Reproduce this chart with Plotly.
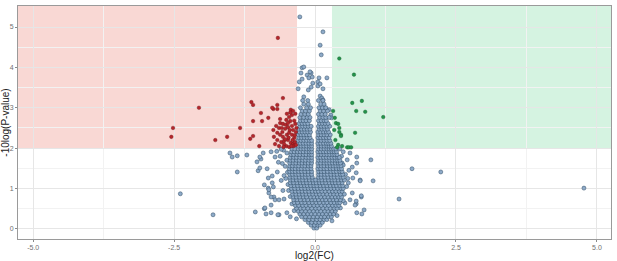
import plotly.graph_objects as go

# ---------------- data ----------------
x_tick_vals = [-5.0, -2.5, 0.0, 2.5, 5.0]
x_tick_text = ["-5.0", "-2.5", "0.0", "2.5", "5.0"]
y_tick_vals = [0, 1, 2, 3, 4, 5]
y_tick_text = ["0", "1", "2", "3", "4", "5"]

fc_down_cut = -0.32
fc_up_cut = 0.30
p_cut = 2.0

# significantly down-regulated (red)
sig_down = [
    (-0.66, 4.73), (-2.06, 3.00), (-1.13, 3.14), (-1.10, 3.07), (-0.57, 3.24), (-0.67, 3.07),
    (-0.74, 2.97), (-0.67, 2.97), (-0.96, 2.87), (-0.83, 2.75), (-1.10, 2.67), (-0.94, 2.67),
    (-0.43, 2.95), (-0.39, 2.92), (-0.50, 2.85), (-0.41, 2.82), (-0.46, 2.77), (-0.51, 2.70),
    (-0.62, 2.62), (-0.57, 2.60), (-0.44, 2.67), (-0.64, 2.50), (-0.59, 2.50), (-0.53, 2.48),
    (-0.48, 2.52), (-0.41, 2.55), (-0.39, 2.45), (-0.67, 2.38), (-0.62, 2.33), (-0.57, 2.28),
    (-0.50, 2.33), (-0.46, 2.38), (-0.41, 2.33), (-0.37, 2.25), (-0.67, 2.20), (-0.60, 2.15),
    (-0.55, 2.18), (-0.48, 2.20), (-0.43, 2.13), (-0.39, 2.10), (-0.71, 2.10), (-0.64, 2.05),
    (-0.51, 2.05), (-0.46, 2.03), (-1.33, 2.50), (-1.56, 2.28), (-1.15, 2.23), (-1.10, 2.30),
    (-0.99, 2.05), (-0.73, 2.28), (-0.74, 2.45), (-2.52, 2.50), (-2.55, 2.28), (-1.77, 2.20),
    (-0.76, 3.00), (-0.34, 2.40), (-0.36, 2.15), (-0.35, 2.60), (-0.38, 2.05), (-0.55, 2.10),
    (-0.47, 2.26), (-0.58, 2.40), (-0.52, 2.58), (-0.45, 2.45), (-0.40, 2.20), (-0.36, 2.32),
    (-0.42, 2.05), (-0.53, 2.22), (-0.69, 2.55), (-0.62, 2.72), (-0.37, 2.68), (-0.48, 2.62),
    (-0.56, 2.03), (-0.35, 2.85), (-0.44, 2.88), (-0.33, 2.50), (-0.34, 2.08),
]

# significantly up-regulated (green)
sig_up = [
    (0.43, 4.22), (0.69, 3.82), (0.83, 3.17), (0.66, 3.12), (0.73, 2.92), (0.89, 2.90),
    (1.21, 2.77), (0.35, 2.75), (0.37, 2.62), (0.41, 2.60), (0.43, 2.50), (0.43, 2.40),
    (0.46, 2.33), (0.71, 2.38), (0.34, 2.45), (0.32, 2.92), (0.41, 2.08), (0.48, 2.05),
    (0.57, 2.02), (0.60, 2.02), (0.64, 2.02), (0.39, 2.02), (0.36, 2.20), (0.46, 2.30),
]

# not significant: sparse points
ns_sparse = [
    (-0.27, 5.25), (0.14, 4.88), (0.09, 4.55), (0.11, 4.31),
    (-0.23, 3.99), (-0.20, 4.01), (-0.07, 3.86), (-0.14, 3.81), (-0.25, 3.86), (-0.28, 3.64),
    (-0.23, 3.71), (-0.11, 3.74), (-0.04, 3.61), (-0.07, 3.51), (0.07, 3.74), (0.05, 3.64),
    (0.21, 3.74), (-0.30, 3.47), (-0.20, 3.27), (-0.12, 3.44), (0.05, 3.54), (0.09, 3.29),
    (0.12, 3.24), (0.14, 3.47), (-0.09, 3.89), (-0.05, 3.76), (0.09, 3.59), (0.14, 3.19),
    (0.25, 2.95), (0.28, 2.82), (0.18, 3.00), (0.29, 2.75),
    (-1.51, 1.88), (-1.47, 1.78), (-1.38, 1.81), (-1.21, 1.83), (-1.38, 1.41), (-1.01, 1.44),
    (-2.39, 0.87), (-1.81, 0.35), (-1.06, 0.42), (-0.90, 0.50), (-0.87, 0.37), (-0.78, 0.40),
    (-0.64, 0.35), (-1.03, 1.66), (-0.96, 1.73), (-0.98, 1.78), (-0.98, 1.51), (-0.85, 1.49),
    (-0.83, 1.26), (-0.76, 1.14), (-0.83, 1.01), (-0.82, 0.89), (-0.73, 0.79), (-0.89, 0.52),
    (-0.66, 0.35), (-0.74, 1.04), (-0.92, 1.88), (-0.78, 1.91), (-0.71, 1.78), (-0.76, 1.31),
    (-0.67, 1.41), (-0.71, 0.72), (-0.78, 0.59), (-0.90, 1.09), (-0.82, 0.97), (-0.78, 0.79),
    (-0.64, 0.72), (-0.55, 0.74), (-0.50, 0.40), (-0.44, 0.30),
    (0.99, 1.71), (1.72, 1.49), (2.23, 1.41), (1.03, 1.19), (4.77, 1.01), (1.49, 0.74),
    (0.82, 0.79), (0.87, 0.47), (0.74, 0.40), (0.83, 0.37), (0.73, 0.62), (0.80, 1.21),
    (0.74, 1.63), (0.73, 1.39), (0.74, 1.78), (0.62, 1.88), (0.57, 1.71), (0.66, 1.53),
    (0.67, 1.26), (0.59, 1.14), (0.66, 0.89), (0.62, 0.72), (0.71, 0.59), (0.53, 0.64),
    (0.48, 1.63), (0.50, 1.91), (0.44, 1.98), (0.80, 1.19), (0.82, 0.82), (0.73, 0.69),
    (-0.50, 1.70), (-0.53, 1.55), (-0.49, 1.40), (-0.52, 1.25), (-0.48, 1.10), (-0.55, 1.32),
    (-0.58, 1.62), (-0.50, 1.88), (-0.56, 1.95), (-0.47, 0.95), (-0.44, 0.80), (-0.41, 0.62),
    (-0.37, 0.45), (0.54, 1.35), (0.56, 1.05), (0.52, 0.86), (0.50, 0.70), (0.45, 0.52),
    (0.39, 0.33), (0.50, 1.58), (0.47, 1.80), (-0.33, 0.25), (0.30, 0.20), (-0.62, 1.80),
    (-0.60, 1.20), (-0.57, 0.95), (0.60, 1.45), (0.58, 1.25), (-0.65, 1.65), (-0.68, 1.92),
    (-0.60, 1.97),
]

# not significant: dense core, listed row by row (y, x values)
ns_core_rows = [
    (0.02, [-0.02, 0.03]),
    (0.09, [-0.07, -0.01, 0.05, 0.09]),
    (0.16, [-0.12, -0.06, 0.01, 0.07, 0.13]),
    (0.23, [-0.18, -0.11, -0.04, 0.03, 0.09, 0.16, 0.21]),
    (0.30, [-0.24, -0.17, -0.10, -0.03, 0.04, 0.11, 0.17, 0.24, 0.29]),
    (0.37, [-0.27, -0.20, -0.13, -0.07, 0.00, 0.07, 0.13, 0.20, 0.27, 0.33]),
    (0.44, [-0.30, -0.24, -0.17, -0.10, -0.03, 0.04, 0.10, 0.17, 0.23, 0.30, 0.36]),
    (0.51, [-0.33, -0.26, -0.20, -0.13, -0.06, 0.01, 0.07, 0.14, 0.21, 0.27, 0.34, 0.39]),
    (0.58, [-0.35, -0.29, -0.22, -0.16, -0.09, -0.02, 0.04, 0.11, 0.18, 0.24, 0.31, 0.37, 0.42]),
    (0.65, [-0.37, -0.31, -0.24, -0.18, -0.11, -0.05, 0.02, 0.08, 0.15, 0.21, 0.28, 0.34, 0.40, 0.44]),
    (0.72, [-0.38, -0.32, -0.26, -0.19, -0.13, -0.06, 0.00, 0.06, 0.13, 0.19, 0.26, 0.32, 0.38, 0.45]),
    (0.79, [-0.39, -0.33, -0.27, -0.21, -0.15, -0.08, -0.02, 0.04, 0.10, 0.17, 0.23, 0.30, 0.36, 0.42, 0.47]),
    (0.86, [-0.40, -0.34, -0.28, -0.22, -0.16, -0.10, -0.04, 0.02, 0.08, 0.14, 0.21, 0.27, 0.33, 0.39, 0.45]),
    (0.93, [-0.41, -0.35, -0.29, -0.23, -0.17, -0.11, -0.05, 0.01, 0.06, 0.12, 0.18, 0.25, 0.31, 0.37, 0.43, 0.48]),
    (1.00, [-0.42, -0.36, -0.30, -0.24, -0.18, -0.12, -0.07, -0.01, 0.04, 0.10, 0.16, 0.22, 0.28, 0.34, 0.40, 0.46, 0.50]),
    (1.07, [-0.43, -0.37, -0.31, -0.25, -0.19, -0.14, -0.08, -0.02, 0.03, 0.09, 0.15, 0.21, 0.27, 0.33, 0.38, 0.44, 0.49]),
    (1.14, [-0.44, -0.38, -0.32, -0.26, -0.21, -0.15, -0.09, -0.03, 0.02, 0.08, 0.13, 0.19, 0.25, 0.31, 0.36, 0.42, 0.48]),
    (1.21, [-0.44, -0.39, -0.33, -0.27, -0.22, -0.16, -0.10, -0.04, 0.01, 0.07, 0.12, 0.18, 0.24, 0.30, 0.35, 0.41, 0.47, 0.52]),
    (1.28, [-0.45, -0.39, -0.34, -0.28, -0.22, -0.17, -0.11, -0.05, 0.06, 0.11, 0.17, 0.23, 0.29, 0.34, 0.40, 0.46, 0.50]),
    (1.35, [-0.45, -0.40, -0.34, -0.29, -0.23, -0.17, -0.12, -0.06, 0.06, 0.11, 0.17, 0.22, 0.28, 0.34, 0.39, 0.45, 0.49]),
    (1.42, [-0.45, -0.40, -0.35, -0.29, -0.24, -0.18, -0.12, -0.06, 0.06, 0.11, 0.16, 0.22, 0.28, 0.33, 0.38, 0.44, 0.48]),
    (1.49, [-0.46, -0.40, -0.35, -0.29, -0.24, -0.18, -0.13, -0.07, 0.05, 0.10, 0.16, 0.21, 0.27, 0.32, 0.38, 0.43, 0.47]),
    (1.56, [-0.45, -0.40, -0.34, -0.29, -0.23, -0.18, -0.12, -0.07, 0.06, 0.11, 0.16, 0.22, 0.27, 0.32, 0.37, 0.42, 0.46]),
    (1.63, [-0.45, -0.39, -0.34, -0.28, -0.23, -0.17, -0.12, -0.06, 0.05, 0.10, 0.16, 0.21, 0.26, 0.31, 0.36, 0.41, 0.45]),
    (1.70, [-0.44, -0.39, -0.33, -0.28, -0.22, -0.17, -0.11, -0.06, 0.06, 0.11, 0.16, 0.21, 0.26, 0.31, 0.36, 0.40, 0.44]),
    (1.77, [-0.44, -0.38, -0.33, -0.27, -0.22, -0.16, -0.11, -0.06, 0.05, 0.10, 0.15, 0.20, 0.25, 0.30, 0.35, 0.40, 0.43]),
    (1.84, [-0.43, -0.38, -0.32, -0.27, -0.21, -0.16, -0.10, -0.06, 0.06, 0.11, 0.16, 0.21, 0.26, 0.31, 0.35, 0.39]),
    (1.91, [-0.42, -0.37, -0.31, -0.26, -0.21, -0.15, -0.10, -0.06, 0.05, 0.10, 0.15, 0.20, 0.25, 0.30, 0.34, 0.38]),
    (1.98, [-0.41, -0.36, -0.30, -0.25, -0.20, -0.15, -0.10, -0.06, 0.06, 0.11, 0.16, 0.21, 0.25, 0.29, 0.33, 0.37]),
    (2.05, [-0.30, -0.25, -0.20, -0.15, -0.10, -0.06, 0.06, 0.11, 0.16, 0.21, 0.25, 0.29]),
    (2.12, [-0.31, -0.26, -0.21, -0.16, -0.11, -0.06, 0.05, 0.10, 0.15, 0.20, 0.24, 0.28]),
    (2.19, [-0.30, -0.25, -0.20, -0.15, -0.10, -0.06, 0.06, 0.11, 0.16, 0.21, 0.26]),
    (2.26, [-0.29, -0.24, -0.19, -0.14, -0.09, 0.05, 0.10, 0.15, 0.20, 0.25]),
    (2.33, [-0.30, -0.25, -0.20, -0.15, -0.10, 0.06, 0.11, 0.16, 0.21, 0.27]),
    (2.40, [-0.28, -0.23, -0.18, -0.13, -0.08, 0.05, 0.10, 0.15, 0.20, 0.24]),
    (2.47, [-0.29, -0.24, -0.19, -0.14, -0.09, 0.07, 0.12, 0.17, 0.22]),
    (2.54, [-0.27, -0.22, -0.17, -0.12, -0.07, 0.06, 0.11, 0.16, 0.21, 0.26]),
    (2.61, [-0.28, -0.23, -0.18, -0.13, 0.08, 0.13, 0.18, 0.23]),
    (2.68, [-0.26, -0.21, -0.16, -0.10, 0.06, 0.11, 0.16, 0.20]),
    (2.76, [-0.27, -0.20, -0.14, -0.09, 0.08, 0.14, 0.19, 0.25]),
    (2.84, [-0.25, -0.18, -0.12, 0.06, 0.12, 0.18]),
    (2.92, [-0.23, -0.17, -0.10, 0.09, 0.15, 0.22]),
    (3.00, [-0.26, -0.15, -0.08, 0.07, 0.13, 0.19]),
    (3.09, [-0.20, -0.12, 0.10, 0.16]),
    (3.18, [-0.22, -0.13, 0.06, 0.14]),
]

# ---------------- build traces ----------------
ns_x = [p[0] for p in ns_sparse]
ns_y = [p[1] for p in ns_sparse]
for yv, xs in ns_core_rows:
    ns_x.extend(xs)
    ns_y.extend([yv] * len(xs))

down_x = [p[0] for p in sig_down]
down_y = [p[1] for p in sig_down]
up_x = [p[0] for p in sig_up]
up_y = [p[1] for p in sig_up]

X_RANGE = [-5.27, 5.25]
Y_RANGE = [-0.25, 5.52]
FONT = "Liberation Sans, Arial, sans-serif"

fig = go.Figure()
fig.add_trace(go.Scatter(
    x=ns_x, y=ns_y, mode="markers", showlegend=False, hoverinfo="skip",
    marker=dict(size=4.0, color="#8EAAC8", line=dict(color="#34506A", width=0.55)),
))
fig.add_trace(go.Scatter(
    x=down_x, y=down_y, mode="markers", showlegend=False, hoverinfo="skip",
    marker=dict(size=3.6, color="#B5262B", line=dict(color="#6E1216", width=0.4)),
))
fig.add_trace(go.Scatter(
    x=up_x, y=up_y, mode="markers", showlegend=False, hoverinfo="skip",
    marker=dict(size=3.6, color="#23934A", line=dict(color="#145A2C", width=0.4)),
))

fig.add_shape(type="rect", xref="x", yref="y", layer="below",
              x0=X_RANGE[0], x1=fc_down_cut, y0=p_cut, y1=Y_RANGE[1],
              fillcolor="#F9D8D4", line=dict(width=0))
fig.add_shape(type="rect", xref="x", yref="y", layer="below",
              x0=fc_up_cut, x1=X_RANGE[1], y0=p_cut, y1=Y_RANGE[1],
              fillcolor="#D5F3E1", line=dict(width=0))

axis_common = dict(
    automargin=False,
    showline=True, linecolor="#9A9A9A", linewidth=1, mirror=True,
    ticks="outside", ticklen=2, tickcolor="#8A8A8A", tickwidth=0.8,
    tickfont=dict(family=FONT, size=7, color="#707070"),
    showgrid=True, gridcolor="#E6E6E6", gridwidth=0.7, zeroline=False,
)

fig.update_xaxes(
    range=X_RANGE, tickvals=x_tick_vals, ticktext=x_tick_text,
    minor=dict(dtick=1.25, tick0=0, showgrid=True, gridcolor="#F2F2F2", gridwidth=0.5),
    title=dict(text="log2(FC)", standoff=1,
               font=dict(family=FONT, size=10, color="#222222")),
    **axis_common,
)
fig.update_yaxes(
    range=Y_RANGE, tickvals=y_tick_vals, ticktext=y_tick_text,
    minor=dict(dtick=0.5, tick0=0, showgrid=True, gridcolor="#F2F2F2", gridwidth=0.5),
    title=dict(text="-10log(P-value)", standoff=1,
               font=dict(family=FONT, size=10, color="#222222")),
    **axis_common,
)

fig.update_layout(
    width=617, height=261,
    margin=dict(l=18, r=6, t=6, b=22),
    paper_bgcolor="white", plot_bgcolor="white",
    font=dict(family=FONT),
    hovermode=False,
)

fig.write_html("out.html", config={"displayModeBar": False},
               post_script="document.body.style.margin='0';")
